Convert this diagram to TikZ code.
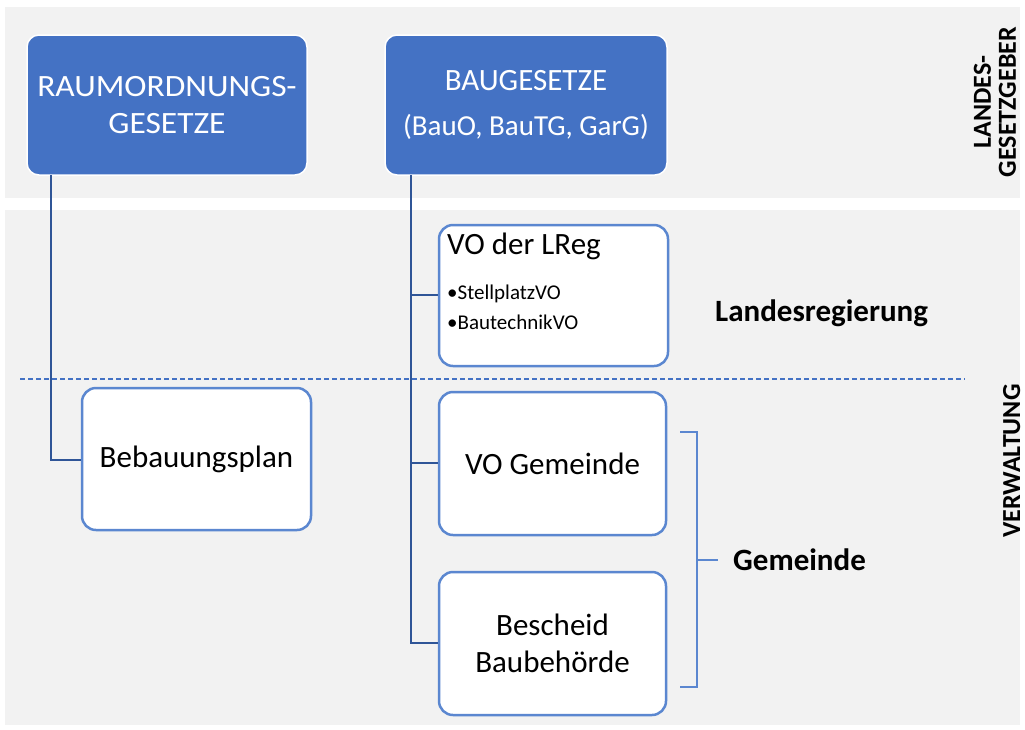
\documentclass[tikz,border=0pt]{standalone}
\usepackage{fontspec}
\setmainfont{Carlito}
\definecolor{hdblue}{HTML}{4472C4}
\definecolor{edgeblue}{HTML}{5B87D0}
\definecolor{linkblue}{HTML}{2F5597}
\definecolor{bandgray}{HTML}{F2F2F2}
\tikzset{
  band/.style={fill=bandgray, draw=none},
  headbox/.style={draw=white, line width=1.5pt, fill=hdblue, rounded corners=12pt, text=white, align=center, inner sep=0pt},
  whitebox/.style={draw=edgeblue, line width=2.5pt, fill=white, rounded corners=14pt, align=center, inner sep=0pt},
  link/.style={draw=linkblue, line width=2.8pt},
  bracket/.style={draw=edgeblue, line width=1.8pt},
  sidelabel/.style={font=\bfseries\fontsize{26}{25}\selectfont, rotate=90, align=center, inner sep=0pt},
  regtext/.style={font=\fontsize{31}{37}\selectfont},
  boldlabel/.style={anchor=west, font=\bfseries\fontsize{31}{36}\selectfont, inner sep=0pt},
}
\begin{document}
\begin{tikzpicture}[x=1pt,y=-1pt]
\useasboundingbox[fill=white] (0,0) rectangle (1025,729);
\fill[band] (5,7) rectangle (1020,198);
\fill[band] (5,210) rectangle (1020,725);

\node[headbox, minimum width=280, minimum height=140, font=\fontsize{31}{37}\selectfont] (raum) at (167,105) {\scalebox{1.08}[1]{RAUMORDNUNGS-}\\\scalebox{1.08}[1]{GESETZE}};
\node[headbox, minimum width=282, minimum height=140] (bau) at (526,105) {\fontsize{31}{37}\selectfont BAUGESETZE\\[22pt]\fontsize{29}{32}\selectfont (BauO, BauTG, GarG)};

\draw[draw=hdblue, line width=1.2pt, dash pattern=on 5pt off 3pt] (20,379) coordinate (dl) -- (965,379) coordinate (dr);

\node[whitebox, minimum width=229, minimum height=142, regtext] (bplan) at (196.5,459) {Bebauungsplan};
\node[whitebox, minimum width=229, minimum height=141] (lreg) at (553.5,295.5) {};
\node[anchor=west, font=\fontsize{31}{37}\selectfont, inner sep=0pt] (lregt) at (447,246) {VO der LReg};
\node[anchor=west, font=\fontsize{21}{30}\selectfont, align=left, inner sep=0pt] (lregl) at (447,307) {•StellplatzVO\\•BautechnikVO};
\node[whitebox, minimum width=227, minimum height=143, regtext] (gem) at (552.5,463.5) {VO Gemeinde};
\node[whitebox, minimum width=227, minimum height=143, regtext] (besch) at (552.5,643.5) {Bescheid\\Baubehörde};

\coordinate (r0) at (51,175);
\coordinate (r1) at (51,460);
\draw[link] (r0) -- (r1) -- (r1 -| bplan.west);
\coordinate (b0) at (411,175);
\coordinate (b1) at (411,295);
\coordinate (b2) at (411,463);
\coordinate (b3) at (411,643);
\draw[link] (b0) -- (b3) -- (b3 -| besch.west);
\draw[link] (b1) -- (b1 -| lreg.west);
\draw[link] (b2) -- (b2 -| gem.west);

\coordinate (k0) at (680,432);
\coordinate (k1) at (697,560);
\coordinate (k2) at (680,687);
\draw[bracket] (k0) -- (k0 -| k1) -- (k1 |- k2) -- (k2);
\draw[bracket] (k1) -- (718,560) coordinate (k3);

\node[boldlabel] (gemlab) at (733,560) {Gemeinde};
\node[boldlabel] (lrlab) at (715,313) {Landesregierung};

\node[sidelabel] (lg) at (995,102) {LANDES-\\GESETZGEBER};
\node[sidelabel, anchor=base] (vw) at (1020,461) {VERWALTUNG};
\end{tikzpicture}
\end{document}
